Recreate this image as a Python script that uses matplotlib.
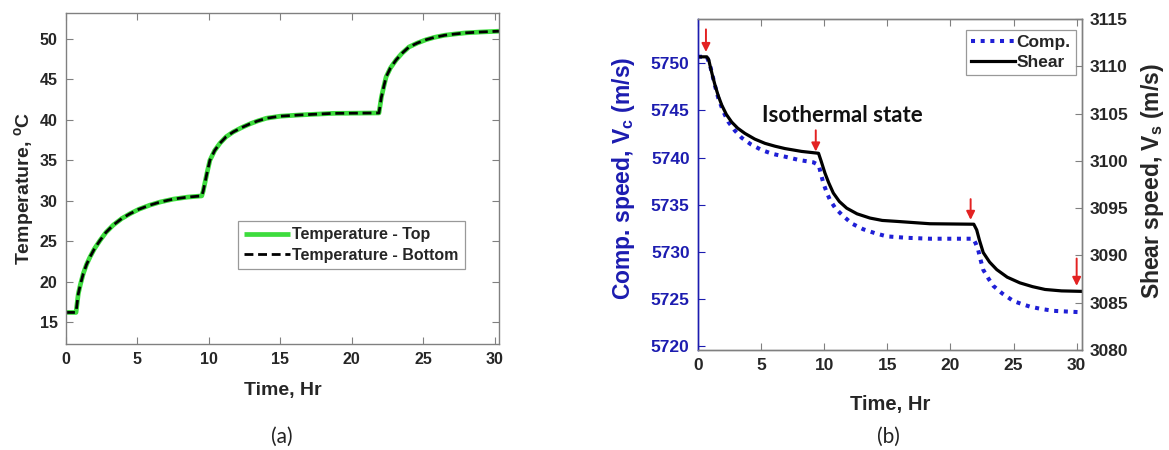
import matplotlib
matplotlib.use("Agg")
import matplotlib.pyplot as plt

plt.rcParams['font.family'] = ['Liberation Sans', 'DejaVu Sans']
plt.rcParams['font.weight'] = 'bold'
plt.rcParams['mathtext.fontset'] = 'custom'
plt.rcParams['mathtext.rm'] = 'Liberation Sans:bold'
plt.rcParams['mathtext.bf'] = 'Liberation Sans:bold'
plt.rcParams['mathtext.it'] = 'Liberation Sans:bold'

# ---------------- data: panel (a) ----------------
temp_time = [0, 0.7, 0.86, 1.0, 1.21, 1.43, 1.68, 2.0, 2.38, 2.8, 3.31, 3.9, 4.48, 5.1,
             5.87, 6.6, 7.5, 8.5, 9.5, 9.6, 9.72, 9.85, 10.07, 10.4, 10.77, 11.2, 11.7,
             12.3, 12.87, 13.4, 14.03, 15.0, 16.36, 18.7, 21.9, 22.07, 22.25, 22.4, 22.7,
             23.1, 23.5, 24.0, 24.6, 25.2, 25.8, 26.5, 27.2, 28.0, 29.0, 30.3]
temp_top = [16.2, 16.2, 18.5, 19.6, 21.0, 22.1, 23.05, 24.1, 25.1, 26.1, 27.0, 27.8, 28.4,
            28.95, 29.46, 29.85, 30.2, 30.45, 30.6, 31.2, 32.2, 33.3, 35.0, 36.2, 37.1,
            37.9, 38.5, 39.05, 39.5, 39.85, 40.2, 40.45, 40.6, 40.8, 40.85, 42.8, 44.2,
            45.3, 46.4, 47.4, 48.2, 49.0, 49.5, 49.9, 50.2, 50.45, 50.6, 50.75, 50.85, 50.95]
temp_bottom = temp_top
temp_xticks = [0, 5, 10, 15, 20, 25, 30]
temp_yticks = [15, 20, 25, 30, 35, 40, 45, 50]

# ---------------- data: panel (b) ----------------
comp_time = [0, 0.7, 0.95, 1.15, 1.35, 1.61, 2.0, 2.4, 2.9, 3.46, 4.2, 5.05, 5.9, 6.9,
             8.0, 9.14, 9.5, 9.6, 9.93, 10.2, 10.46, 10.9, 11.51, 12.2, 13.1, 14.0, 14.95,
             16.5, 18.38, 21.81, 22.0, 22.2, 22.4, 22.6, 23.0, 23.4, 24.1, 24.98, 25.6,
             26.3, 27.2, 28.2, 30.4]
comp_speed = [5750.7, 5750.7, 5749.8, 5748.7, 5747.6, 5746.3, 5744.9, 5743.8, 5742.9,
              5742.1, 5741.4, 5740.8, 5740.4, 5740.1, 5739.75, 5739.5, 5739.25, 5739.0,
              5737.3, 5736.3, 5735.5, 5734.6, 5733.8, 5733.0, 5732.4, 5732.0, 5731.65,
              5731.5, 5731.4, 5731.4, 5730.9, 5730.2, 5729.1, 5728.1, 5727.2, 5726.4,
              5725.6, 5724.8, 5724.5, 5724.2, 5723.95, 5723.75, 5723.6]
shear_time = [0, 0.7, 0.85, 0.95, 1.15, 1.35, 1.6, 1.88, 2.25, 2.67, 3.15, 3.72, 4.5,
              5.31, 6.1, 6.89, 8.2, 9.55, 9.75, 10.06, 10.35, 10.72, 11.2, 11.78, 12.6,
              13.63, 14.6, 15.74, 18.38, 21.85, 22.08, 22.3, 22.6, 23.1, 23.67, 24.5,
              25.5, 26.5, 27.5, 28.8, 30.4]
shear_speed = [3111.0, 3111.0, 3110.7, 3110.1, 3109.0, 3108.0, 3106.9, 3105.9, 3104.9,
               3104.1, 3103.45, 3102.9, 3102.3, 3101.85, 3101.55, 3101.3, 3101.0,
               3100.8, 3100.0, 3098.7, 3097.7, 3096.6, 3095.7, 3095.0, 3094.4, 3093.95,
               3093.7, 3093.6, 3093.35, 3093.3, 3092.7, 3091.6, 3090.3, 3089.3, 3088.5,
               3087.7, 3087.1, 3086.7, 3086.4, 3086.25, 3086.2]
arrow_time = [0.63, 9.33, 21.6, 30.0]
arrow_tail = [5753.6, 5742.9, 5735.6, 5729.3]
arrow_tip = [5751.2, 5740.65, 5733.4, 5726.4]
comp_yticks = [5720, 5725, 5730, 5735, 5740, 5745, 5750]
shear_yticks = [3080, 3085, 3090, 3095, 3100, 3105, 3110, 3115]

W, H = 1169, 450
fig = plt.figure(figsize=(W / 100, H / 100), dpi=100)
fig.patch.set_facecolor('white')

GRAY = '#808080'
BLUE = '#1c1cb0'
DARK = '#262626'

def style_axes(ax, spine_color=GRAY):
    for s in ax.spines.values():
        s.set_color(spine_color)
        s.set_linewidth(1.0)

# ---------------- panel (a) ----------------
axa = fig.add_axes([66 / W, 1 - 344 / H, 433 / W, 331 / H])
axa.plot(temp_time, temp_top, color='#3ddc3d', lw=3.4, solid_capstyle='butt',
         label='Temperature - Top')
axa.plot(temp_time, temp_bottom, color='black', lw=2.0, linestyle=(0, (3.2, 1.7)),
         label='Temperature - Bottom')
axa.set_xlim(0, 30.3)
axa.set_ylim(12.3, 53.2)
axa.set_xticks(temp_xticks)
axa.set_yticks(temp_yticks)
axa.tick_params(direction='in', length=5, width=0.8, color=GRAY, top=True, right=True,
                labelsize=11.5, pad=6, labelcolor=DARK)
style_axes(axa)
axa.set_xlabel('Time, Hr', fontsize=14, fontweight='bold', color=DARK)
axa.xaxis.set_label_coords(0.5, -0.115)
axa.set_ylabel(r'Temperature, $^{\mathbf{o}}$C', fontsize=14, fontweight='bold',
               color=DARK)
axa.yaxis.set_label_coords(-0.07, 0.47)
leg = axa.legend(loc='upper left', bbox_to_anchor=(0.3965, 0.3716), borderaxespad=0,
                 fontsize=11.5, frameon=True, fancybox=False, edgecolor=GRAY,
                 handlelength=2.9, handletextpad=0.1, borderpad=0.4, labelspacing=0.35)
leg.get_frame().set_linewidth(0.9)
for t in leg.get_texts():
    t.set_fontweight('bold')
    t.set_color(DARK)

# ---------------- panel (b) ----------------
axb = fig.add_axes([698 / W, 1 - 350 / H, 383.7 / W, 331 / H])
axs = axb.twinx()
l1, = axb.plot(comp_time, comp_speed, color='#1f1fd6', lw=2.9, linestyle=(0, (1, 1.4)),
               dash_capstyle='butt', label='Comp.')
l2, = axs.plot(shear_time, shear_speed, color='black', lw=2.3, label='Shear')
axb.set_xlim(0, 30.4)
axb.set_ylim(5719.6, 5754.7)
axs.set_ylim(3080, 3115)
axb.set_xticks(temp_xticks)
axb.set_yticks(comp_yticks)
axs.set_yticks(shear_yticks)
axb.tick_params(axis='x', direction='in', length=5, width=0.8, color=GRAY, top=True,
                labelsize=12.5, pad=6, labelcolor=DARK)
axb.tick_params(axis='y', direction='in', length=5, width=0.8, color=BLUE,
                labelsize=12.5, pad=6, labelcolor=BLUE)
axs.tick_params(axis='y', direction='in', length=5, width=0.8, color=GRAY,
                labelsize=12.5, pad=6, labelcolor=DARK)
style_axes(axb)
style_axes(axs)
axs.spines['left'].set_color(BLUE)
axb.spines['left'].set_color(BLUE)
axb.set_xlabel('Time, Hr', fontsize=14.5, fontweight='bold', color=DARK)
axb.xaxis.set_label_coords(0.5, -0.135)
axb.set_ylabel(r'Comp. speed, V$_{\mathbf{c}}$ (m/s)', fontsize=16.5,
               fontweight='bold', color=BLUE)
axb.yaxis.set_label_coords(-0.158, 0.52)
axs.set_ylabel(r'Shear speed, V$_{\mathbf{s}}$ (m/s)', fontsize=16.5,
               fontweight='bold', color=DARK)
axs.yaxis.set_label_coords(1.15, 0.51)

for xt, y0, y1 in zip(arrow_time, arrow_tail, arrow_tip):
    axb.annotate('', xy=(xt, y1), xytext=(xt, y0),
                 arrowprops=dict(arrowstyle='-|>,head_length=0.5,head_width=0.25',
                                 color='#e32222', lw=1.4, shrinkA=0, shrinkB=0),
                 annotation_clip=False)

axb.text(11.45, 5744.5, 'Isothermal state', fontsize=16, fontweight='bold',
         family=['Lato', 'DejaVu Sans'], ha='center', va='center', color='#111111')

legb = axs.legend([l1, l2], ['Comp.', 'Shear'], loc='upper right',
                  bbox_to_anchor=(0.985, 0.967), borderaxespad=0, fontsize=12.5,
                  frameon=True, fancybox=False, edgecolor=GRAY, handlelength=2.5,
                  handletextpad=0.1, borderpad=0.3, labelspacing=0.25)
legb.get_frame().set_linewidth(0.9)
for t in legb.get_texts():
    t.set_fontweight('bold')
    t.set_color(DARK)

# captions
fig.text(282 / W, 1 - 437 / H, '(a)', fontsize=15, fontweight='normal',
         family=['Lato', 'DejaVu Sans'], ha='center', va='center', color='#222222')
fig.text(888 / W, 1 - 437 / H, '(b)', fontsize=15, fontweight='normal',
         family=['Lato', 'DejaVu Sans'], ha='center', va='center', color='#222222')

fig.savefig('out.png', dpi=100, facecolor='white')
